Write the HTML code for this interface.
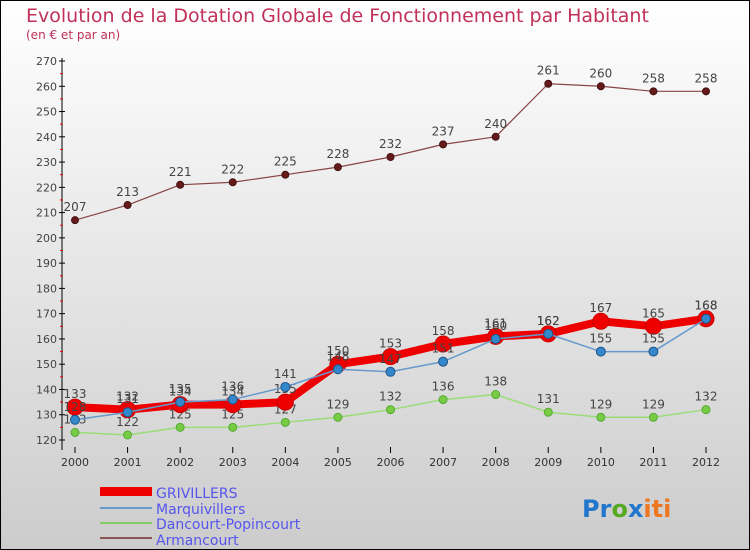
<!DOCTYPE html>
<html><head><meta charset="utf-8"><style>
body{margin:0;}
svg{display:block;font-family:"DejaVu Sans","Liberation Sans",sans-serif;}
</style></head><body>
<svg id="c" width="750" height="550" viewBox="0 0 750 550">
<defs><linearGradient id="bg" x1="0" y1="0" x2="0" y2="1"><stop offset="0" stop-color="#ffffff"/><stop offset="1" stop-color="#cccccc"/></linearGradient></defs>
<rect x="0.5" y="0.5" width="749" height="549" fill="url(#bg)" stroke="#000"/>
<text x="26" y="22" font-size="19" fill="#c0305a">Evolution de la Dotation Globale de Fonctionnement par Habitant</text>
<text x="26" y="39" font-size="12" fill="#c0305a">(en € et par an)</text>
<g id="axes"></g><g id="series"></g>
<g font-size="14" fill="#5555ee">
<rect x="100" y="487" width="52" height="9" fill="#ee0000"/>
<text x="156" y="498">GRIVILLERS</text>
<rect x="100" y="507" width="52" height="2" fill="#6699cc"/>
<text x="156" y="514">Marquivillers</text>
<rect x="100" y="522" width="52" height="2" fill="#88cc66"/>
<text x="156" y="529">Dancourt-Popincourt</text>
<rect x="100" y="537" width="52" height="2" fill="#885555"/>
<text x="156" y="545">Armancourt</text>
</g>
<text x="582" y="517" font-size="24" font-weight="bold"><tspan fill="#2277cc">Pr</tspan><tspan fill="#55aa22">o</tspan><tspan fill="#2277cc">x</tspan><tspan fill="#ee7722">iti</tspan></text>
</svg>
<script>
const years=[2000,2001,2002,2003,2004,2005,2006,2007,2008,2009,2010,2011,2012];
const yTicks=[120,130,140,150,160,170,180,190,200,210,220,230,240,250,260,270];
const grivillers=[133,132,134,134,135,150,153,158,161,162,167,165,168];
const marquivillers=[128,131,135,136,141,148,147,151,160,162,155,155,168];
const dancourt=[123,122,125,125,127,129,132,136,138,131,129,129,132];
const armancourt=[207,213,221,222,225,228,232,237,240,261,260,258,258];
const NS='http://www.w3.org/2000/svg';
const x=i=>75+i*(706-75)/12;
const y=v=>440-(v-120)*(440-61)/150;
function mk(t,a,p){const e=document.createElementNS(NS,t);for(const k in a)e.setAttribute(k,a[k]);p.appendChild(e);return e;}
const ax=document.getElementById('axes');
let yl=mk('line',{x1:62,y1:58,x2:62,y2:450,stroke:'#000'},ax);


yTicks.forEach(v=>{
 mk('line',{x1:59,y1:y(v),x2:65,y2:y(v),stroke:'#000'},ax);
 if(v<270)mk('line',{x1:60,y1:y(v+5),x2:63,y2:y(v+5),stroke:'#ee0000'},ax);
 const t=mk('text',{x:57,y:y(v)+4,'font-size':11,fill:'#444','text-anchor':'end'},ax);t.textContent=v;
 
 
});
years.forEach((yr,i)=>{
 mk('line',{x1:x(i),y1:447,x2:x(i),y2:453,stroke:'#000'},ax);
 const t=mk('text',{x:x(i),y:466,'font-size':11,fill:'#333','text-anchor':'middle'},ax);t.textContent=yr;
 
 
});
const sg=document.getElementById('series');
function draw(vals,name,color,w,r,dot,stroke){
 const g=mk('g',{},sg);
 
 
 mk('polyline',{points:vals.map((v,i)=>x(i)+','+y(v)).join(' '),fill:'none',stroke:color,'stroke-width':w,'stroke-linejoin':'round'},g);
 vals.forEach((v,i)=>{
  const c=mk('circle',{cx:x(i),cy:y(v),r:r,fill:dot,stroke:stroke,'stroke-width':1},g);
  
  
  const t=mk('text',{x:x(i),y:y(v)-9,'font-size':12,fill:'#444','text-anchor':'middle'},g);t.textContent=v;
  
  
 });
}
draw(armancourt,'armancourt','#884444',1.2,3.5,'#661a1a','#441111');
draw(dancourt,'dancourt','#99dd77',1.5,4,'#77cc44','#55aa33');
draw(grivillers,'grivillers','#ee0000',8,8,'#ee0000','#cc0000');
draw(marquivillers,'marquivillers','#6699cc',1.5,4.5,'#3388cc','#225588');
</script>
</body></html>
